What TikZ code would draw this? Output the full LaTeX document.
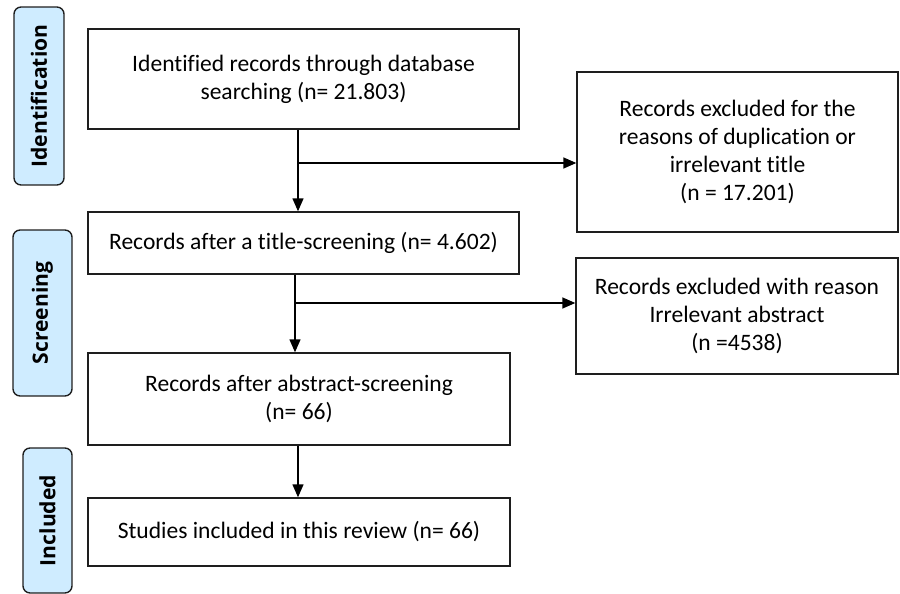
\documentclass[tikz,border=0pt]{standalone}
\usepackage{fontspec}
\setmainfont{Carlito}[Ligatures=NoCommon]
\newfontfamily\stagefont{Open Sans}
\usepackage{tikz}
\usetikzlibrary{arrows.meta,positioning,calc}
\definecolor{stageblue}{RGB}{207,236,255}
\definecolor{darkgray}{RGB}{30,30,30}
\tikzset{
  box/.style    ={rectangle, draw=darkgray, line width=0.8pt, fill=white, align=center,
                  inner sep=2pt, font=\fontsize{13.4}{16}\selectfont},
  stage/.style  ={rectangle, rounded corners=4pt, draw=darkgray, line width=0.8pt,
                  fill=stageblue, inner sep=0pt},
  stagetxt/.style={rotate=90, font=\stagefont\bfseries\fontsize{12}{15}\selectfont},
  flow/.style   ={-{Triangle[length=2.6mm,width=2.2mm]}, line width=0.8pt, draw=black}
}
\begin{document}
\begin{tikzpicture}[x=0.02cm, y=-0.02cm]
\useasboundingbox (0,0) rectangle (900,594);

% ---- Stage labels ----
\node[stage, minimum width=1.0cm, minimum height=3.56cm] (sid) at (39,96) {};
\node[stagetxt] (tid) at (sid.center) {Identification};
\node[stage, minimum width=1.18cm, minimum height=3.32cm] (sscr) at (42.5,313) {};
\node[stagetxt] (tscr) at (sscr.center) {Screening};
\node[stage, minimum width=0.98cm, minimum height=2.9cm] (sinc) at (47.5,520.5) {};
\node[stagetxt] (tinc) at (sinc.center) {Included};

% ---- Main flow ----
\node[box, minimum width=8.62cm, minimum height=2.0cm] (ident) at (303.5,79)
  {Identified records through database\\searching (n= 21.803)};
\node[box, minimum width=8.62cm, minimum height=1.24cm] (title) at (303.5,243)
  {Records after a title-screening (n= 4.602)};
\node[box, minimum width=8.44cm, minimum height=1.84cm] (abstr) at (299,399)
  {Records after abstract-screening\\(n= 66)};
\node[box, minimum width=8.44cm, minimum height=1.36cm] (incl) at (299,532)
  {Studies included in this review (n= 66)};

% ---- Exclusions ----
\node[box, minimum width=6.42cm, minimum height=3.2cm] (excla) at (737.5,152)
  {Records excluded for the\\reasons of duplication or\\irrelevant title\\(n = 17.201)};
\node[box, minimum width=6.44cm, minimum height=2.32cm] (exclb) at (737,316)
  {Records excluded with reason\\Irrelevant abstract\\(n =4538)};

% ---- Edges ----
\coordinate (ja) at (298,163);
\coordinate (jb) at (295,303);
\draw[flow] (ident.south -| ja) -- (title.north -| ja);
\draw[flow] (ja) -- (ja -| excla.west);
\draw[flow] (title.south -| jb) -- (abstr.north -| jb);
\draw[flow] (jb) -- (jb -| exclb.west);
\draw[flow] (abstr.south -| ja) -- (incl.north -| ja);
\end{tikzpicture}
\end{document}
